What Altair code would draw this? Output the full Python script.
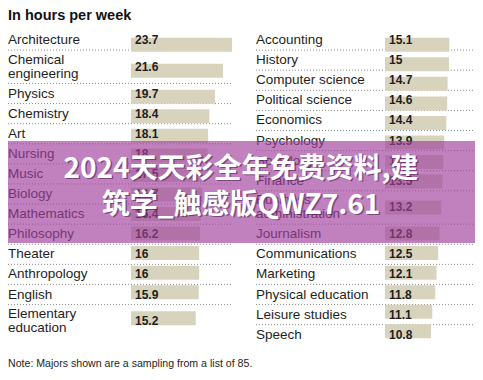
import altair as alt
import pandas as pd

# ---------------- data ----------------
TITLE = "In hours per week"
NOTE = "Note: Majors shown are a sampling from a list of 85."

left_majors = ["Architecture", "Chemical\nengineering", "Physics", "Chemistry", "Art",
               "Nursing", "Music", "Biology", "Mathematics", "Philosophy", "Theater",
               "Anthropology", "English", "Elementary\neducation"]
left_hours = [23.7, 21.6, 19.7, 18.4, 18.1, 18, 17.5, 16.7, 16.4, 16.2, 16, 16, 15.9, 15.2]

right_majors = ["Accounting", "History", "Computer science", "Political science", "Economics",
                "Psychology", "Sociology", "Finance", "Business\nadministration", "Journalism",
                "Communications", "Marketing", "Physical education", "Leisure studies", "Speech"]
right_hours = [15.1, 15, 14.7, 14.6, 14.4, 13.9, 13.7, 13.5, 13.2, 12.8, 12.5, 12.1, 11.8, 11.1, 10.8]

WATERMARK = ["2024天天彩全年免费资料,建", "筑学_触感版QWZ7.61"]

# ---------------- style ----------------
FONT = "Liberation Sans"
CJK = "Noto Sans CJK SC"
INK = "#1e1e1e"
BAR = "#d8d3bd"
DOT = "#8f8f8f"
W, H = 467, 362
ROW_PX = 20.1          # pixels per row unit
Y_TOP = 22.0           # top of first row
EXTRA_LINE = 0.66      # extra row units per additional label line
LINE_H = 14            # label line height in px
PX_PER_HOUR = 4.26
Y_UNITS = 18
X_HOURS = 25


def build(majors, hours):
    nlines = [m.count("\n") + 1 for m in majors]
    units = [1 + EXTRA_LINE * (n - 1) for n in nlines]
    tops, t = [], 0.0
    for u in units:
        tops.append(t)
        t += u
    df = pd.DataFrame({"major": majors, "hours": hours, "top": tops, "units": units, "n": nlines})
    df["mid"] = df["top"] + df["units"] / 2
    # first line position so that a multi-line label is centred on the row
    df["label_y"] = df["mid"] - (df["n"] - 1) * LINE_H / 2 / ROW_PX
    df["value"] = [f"{v:g}" for v in hours]
    return df


ys = alt.Scale(domain=[0, Y_UNITS], range=[Y_TOP, Y_TOP + Y_UNITS * ROW_PX], nice=False, zero=False)


def column(df, x0, bar_x0, rule_x2):
    xs = alt.Scale(domain=[0, X_HOURS], range=[bar_x0, bar_x0 + X_HOURS * PX_PER_HOUR], nice=False)
    base = alt.Chart(df)
    rules = alt.Chart(df[df["top"] > 0]).mark_rule(
        color=DOT, strokeDash=[1, 2], strokeWidth=1
    ).encode(
        y=alt.Y("top:Q", scale=ys, axis=None),
        x=alt.value(x0),
        x2=alt.value(rule_x2),
    )
    bars = base.mark_bar(orient="horizontal", height=14, color=BAR).encode(
        x=alt.X("hours:Q", scale=xs, axis=None),
        y=alt.Y("mid:Q", scale=ys, axis=None),
    )
    labels = base.mark_text(
        align="left", baseline="middle", font=FONT, fontSize=13.5,
        lineBreak="\n", lineHeight=LINE_H, color=INK
    ).encode(
        text="major:N",
        x=alt.value(x0),
        y=alt.Y("label_y:Q", scale=ys, axis=None),
    )
    values = base.mark_text(
        align="left", baseline="middle", font=FONT, fontSize=12,
        fontWeight="bold", color=INK
    ).encode(
        text="value:N",
        x=alt.value(bar_x0 + 4),
        y=alt.Y("mid:Q", scale=ys, axis=None),
    )
    return [rules, bars, labels, values]


left = build(left_majors, left_hours)
right = build(right_majors, right_hours)

title = alt.Chart(pd.DataFrame({"t": [TITLE]})).mark_text(
    align="left", baseline="alphabetic", font=FONT, fontSize=14.5, fontWeight="bold", color="#111"
).encode(text="t:N", x=alt.value(0), y=alt.value(12))

note = alt.Chart(pd.DataFrame({"t": [NOTE]})).mark_text(
    align="left", baseline="alphabetic", font=FONT, fontSize=10.6, color=INK
).encode(text="t:N", x=alt.value(0), y=alt.value(359))

band = alt.Chart(pd.DataFrame({"a": [0]})).mark_rect(
    color="#a0409c", opacity=0.66
).encode(x=alt.value(0), x2=alt.value(W), y=alt.value(133), y2=alt.value(235))

wm_df = pd.DataFrame({"t": WATERMARK, "i": [0, 1]})
wm_layers = []
for i, yy in enumerate([161.5, 197.5]):
    d = wm_df[wm_df["i"] == i]
    wm_layers.append(alt.Chart(d).mark_text(
        align="center", baseline="middle", font=CJK, fontSize=28, fontWeight="bold",
        color="#4a1550", opacity=0.55, dx=1.5, dy=1.5
    ).encode(text="t:N", x=alt.value(233), y=alt.value(yy)))
    wm_layers.append(alt.Chart(d).mark_text(
        align="center", baseline="middle", font=CJK, fontSize=28, fontWeight="bold",
        color="#ffffff"
    ).encode(text="t:N", x=alt.value(233), y=alt.value(yy)))

layers = [title] + column(left, 0, 123, 224) + column(right, 248, 377, W) + [note, band] + wm_layers

chart = alt.layer(*layers).resolve_scale(x="independent", y="independent").properties(
    width=W, height=H, padding=0, autosize=alt.AutoSizeParams(type="none"),
    background="white"
).configure_view(stroke=None)

chart.save("out.html", embed_options={"renderer": "svg", "actions": False})
